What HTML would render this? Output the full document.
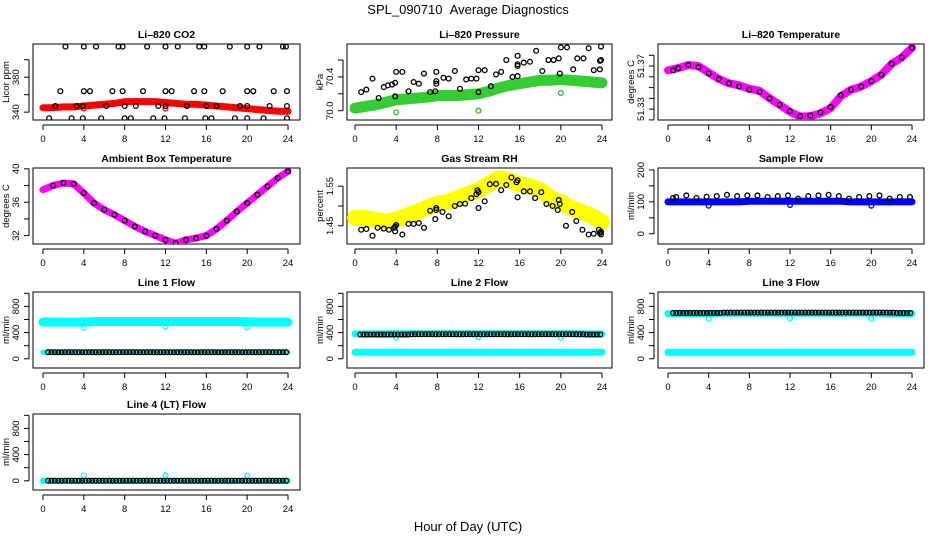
<!DOCTYPE html>
<html><head><meta charset="utf-8"><style>
html,body{margin:0;padding:0;background:#fff;}
svg{display:block;font-family:"Liberation Sans",sans-serif;}
</style></head><body>
<svg id="chart" width="936" height="540" viewBox="0 0 936 540" xmlns="http://www.w3.org/2000/svg">
<rect x="0" y="0" width="936" height="540" fill="#fff"/>
<text x="468" y="14" text-anchor="middle" font-size="13">SPL_090710 &#160;Average Diagnostics</text>
<text x="468" y="531" text-anchor="middle" font-size="13">Hour of Day (UTC)</text>
</svg>
<script>
const xTicks = [0,4,8,12,16,20,24];
const hourly = [0,1,2,3,4,5,6,7,8,9,10,11,12,13,14,15,16,17,18,19,20,21,22,23,24];

// CO2
const co2Band = [345,345,346,346,347,348,349,350,352,352,352,352,351,350,349,349,348,347,346,345,344,343,342,341,341];
const co2BlackH = [2.2,4,5.2,7.4,7.8,10.2,12,13.2,15.3,15.8,18.3,20,21.2,23.5,23.8, 1.7,4,4.6,6.8,7.8,9.8,12,12.6,14.8,15.8,17.6,20,20.6,22.6,23.9, 1.2,3.3,3.9,6.2,8,9.1,11.3,12,14.1,16,17,19.3,20,22.2,23.9, 0.6,2.8,3.9,5.7,8,8.6,10.8,11.9,13.9,15.9,16.5,18.8,20,21.6,23.9];
const co2BlackV = [415,415,415,415,415,415,415,415,415,415,415,415,415,415,415, 364,364,364,364,364,364,364,364,364,364,364,364,364,364,364, 347,347,347,347,347,347,347,347,347,347,347,347,347,347,347, 333,333,333,333,333,333,333,333,333,333,333,333,333,333,333];
const co2OutH = [4,12];
const co2OutV = [344,344];

// Pressure
const presBand = [70.03,70.05,70.07,70.10,70.13,70.14,70.15,70.16,70.18,70.18,70.18,70.19,70.20,70.23,70.27,70.30,70.32,70.34,70.36,70.36,70.37,70.36,70.35,70.34,70.33];
const presBlackH = [0.6,1.1,1.7,2.3,2.8,3.2,3.6,3.9,4,3.9,4.6,5.2,5.7,6.2,6.7,7.3,7.8,7.9,7.9,7.9,8.6,9.1,9.7,10.2,10.8,11.3,11.8,12,12,12.6,13.2,13.7,14.2,14.7,15.3,15.8,15.8,15.8,15.8,16.4,17,17.6,18.2,18.8,19.3,19.8,19.9,20,20.6,21.2,21.6,22.2,22.7,23.2,23.8,23.8,23.9,23.9];
const presBlackV = [70.22,70.25,70.38,70.15,70.28,70.3,70.31,70.33,70.46,70.17,70.46,70.23,70.34,70.32,70.44,70.22,70.23,70.32,70.35,70.46,70.39,70.38,70.47,70.26,70.37,70.38,70.38,70.48,70.22,70.48,70.29,70.43,70.46,70.6,70.4,70.41,70.53,70.55,70.65,70.57,70.58,70.71,70.47,70.6,70.6,70.62,70.44,70.75,70.75,70.49,70.62,70.62,70.74,70.48,70.49,70.59,70.6,70.76];
const presOutH = [4,12,20];
const presOutV = [69.98,70.0,70.21];

// Li-820 temperature
const tempBand = [51.366,51.368,51.371,51.370,51.364,51.358,51.354,51.352,51.349,51.347,51.340,51.334,51.3275,51.323,51.3235,51.326,51.331,51.342,51.348,51.351,51.356,51.362,51.372,51.378,51.387];
const tempBlackV = [51.366,51.368,51.371,51.369,51.363,51.358,51.354,51.351,51.348,51.346,51.340,51.334,51.328,51.3235,51.324,51.327,51.332,51.343,51.348,51.351,51.356,51.362,51.372,51.378,51.387];

// Ambient
const ambBand = [37.5,38.0,38.3,38.2,37.1,35.9,35.1,34.5,33.8,33.1,32.5,32.0,31.5,31.1,31.5,31.7,32.0,32.8,33.8,34.9,35.9,36.9,37.9,38.9,39.7];

// RH
const rhBand = [1.47,1.47,1.465,1.46,1.465,1.475,1.485,1.495,1.505,1.51,1.52,1.53,1.54,1.555,1.57,1.565,1.555,1.55,1.54,1.52,1.51,1.495,1.485,1.475,1.46];
const rhBlackH = [0.6,1.1,1.7,2.2,2.8,3.3,3.8,3.9,4,3.9,4.6,5.2,5.7,6.2,6.7,7.3,7.8,7.9,7.9,8.5,9.1,9.7,10.2,10.7,11.3,11.8,11.9,12,12,12.6,13.1,13.7,14.2,14.7,15.2,15.7,15.8,15.8,16.4,17,17.5,18.1,18.6,19.2,19.7,19.8,19.9,20.5,21.1,21.5,22.1,22.7,23.2,23.7,23.8,23.9,23.9];
const rhBlackV = [1.44,1.442,1.425,1.445,1.443,1.44,1.445,1.448,1.452,1.436,1.428,1.455,1.455,1.457,1.445,1.488,1.467,1.49,1.495,1.485,1.474,1.50,1.505,1.506,1.52,1.53,1.54,1.535,1.495,1.512,1.555,1.556,1.54,1.553,1.572,1.56,1.565,1.522,1.537,1.537,1.52,1.535,1.505,1.50,1.49,1.515,1.505,1.45,1.485,1.462,1.44,1.428,1.43,1.44,1.432,1.435,1.428];

// Sample flow
const sfBand = [100,100,100,100,100,100,100,100,102,102,102,102,102,102,102,102,102,102,100,100,100,100,100,100,100];
const sfBlackV = [112,115,120,112,116,118,122,118,120,120,115,118,120,110,118,120,122,118,110,115,118,120,110,115,115];
const sfOutH = [4,12,20];
const sfOutV = [88,90,88];

// Line flows
const l1Cyan = [560,560,560,560,560,570,570,570,570,570,570,570,570,570,570,570,570,570,570,570,565,560,560,560,560];
const l1Black = [100,100,100,100,100,100,100,100,100,100,100,100,100,100,100,100,100,100,100,100,100,100,100,100,100];
const l1OutV = [470,490,480];
const l2Cyan = [380,380,380,380,385,385,385,385,385,385,385,385,385,385,385,385,385,385,385,385,385,385,380,380,380];
const l2Black = [370,370,370,370,370,375,375,375,375,375,375,375,375,375,375,375,375,375,375,375,375,375,370,370,370];
const l2Low = [100,100,100,100,100,100,100,100,100,100,100,100,100,100,100,100,100,100,100,100,100,100,100,100,100];
const l2OutV = [320,330,320];
const l3Black = [700,700,700,700,700,705,705,705,705,705,705,705,705,705,705,705,705,705,705,705,705,705,700,700,700];
const l3Cyan = [690,690,690,690,690,695,695,695,695,695,695,695,695,695,695,695,695,695,695,695,695,695,690,690,690];
const l3Low = [100,100,100,100,100,100,100,100,100,100,100,100,100,100,100,100,100,100,100,100,100,100,100,100,100];
const l3OutV = [610,620,610];
const l4Black = [0,0,0,0,0,0,0,0,0,0,0,0,0,0,0,0,0,0,0,0,0,0,0,0,0];
const l4OutV = [80,85,80];
const outH = [4,12,20];

const NS = "http://www.w3.org/2000/svg";
const svg = document.getElementById('chart');
const cols = [{bl:33,br:300,x0:43,x24:288},{bl:347,br:612,x0:355,x24:602},{bl:658,br:924,x0:668,x24:912}];
const rows = [44,168,292,414];
const H = 76;

function mk(tag, attrs, parent){
  const e = document.createElementNS(NS, tag);
  for (const k in attrs) e.setAttribute(k, attrs[k]);
  (parent||svg).appendChild(e);
  return e;
}

function panel(name, title, col, row, ymin, ymax, yt, yl, ylab){
  const c = cols[col], top = rows[row], bot = top + H;
  const g = mk('g', {});
  
  
  const sx = h => c.x0 + (c.x24 - c.x0) * h / 24;
  const sy = v => bot - (v - ymin) / (ymax - ymin) * H;
  const box = mk('rect', {x:c.bl, y:top, width:c.br-c.bl, height:H, fill:'none', stroke:'#000', 'stroke-width':1}, g);
  
  
  const t = mk('text', {x:(c.bl+c.br)/2, y:top-6, 'text-anchor':'middle', 'font-size':10.5, 'font-weight':'bold'}, g);
  t.textContent = title;
  
  
  const xa = mk('g', {}, g);
  
  
  const ay = bot + 5;
  mk('line', {x1:sx(0), x2:sx(24), y1:ay, y2:ay, stroke:'#000'}, xa);
  xTicks.forEach(v => {
    mk('line', {x1:sx(v), x2:sx(v), y1:ay, y2:ay+5, stroke:'#000'}, xa);
    const l = mk('text', {x:sx(v), y:ay+17, 'text-anchor':'middle', 'font-size':9.5}, xa);
    l.textContent = v;
  });
  const ya = mk('g', {}, g);
  
  
  const ax = c.bl - 4;
  mk('line', {x1:ax, x2:ax, y1:sy(yt[0]), y2:sy(yt[yt.length-1]), stroke:'#000'}, ya);
  yt.forEach(v => mk('line', {x1:ax, x2:ax-5, y1:sy(v), y2:sy(v), stroke:'#000'}, ya));
  yl.forEach(v => {
    const l = mk('text', {x:0, y:0, 'text-anchor':'middle', 'font-size':9.5, transform:`translate(${ax-10},${sy(v)}) rotate(-90)`}, ya);
    l.textContent = v;
  });
  const yt2 = mk('text', {x:0, y:0, 'text-anchor':'middle', 'font-size':9.5, transform:`translate(${ax-20},${(top+bot)/2}) rotate(-90)`}, g);
  yt2.textContent = ylab;
  
  
  const clip = 'clip-' + name;
  const cp = mk('clipPath', {id:clip}, g);
  mk('rect', {x:c.bl, y:top, width:c.br-c.bl, height:H}, cp);
  const plot = mk('g', {'clip-path':`url(#${clip})`}, g);
  return {g:plot, sx, sy};
}

function band(p, hs, vs, color, w, name){
  const pts = hs.map((h,i) => p.sx(h) + ',' + p.sy(vs[i])).join(' ');
  const pl = mk('polyline', {points:pts, fill:'none', stroke:color, 'stroke-width':w, 'stroke-linejoin':'round', 'stroke-linecap':'round'}, p.g);
  
  
}
function pts(p, hs, vs, color, name){
  const gg = mk('g', {}, p.g);
  
  
  hs.forEach((h,i) => mk('circle', {cx:p.sx(h), cy:p.sy(vs[i]), r:2.4, fill:'none', stroke:color, 'stroke-width':1.3}, gg));
}
function dense(p, vs, color, name, start){
  const gg = mk('g', {}, p.g);
  
  
  const sub = [0, 0.33, 0.66];
  hourly.slice(0,24).forEach((h,i) => sub.forEach(s => {
    const hh = h + s + (start||0);
    if (hh <= 24) mk('circle', {cx:p.sx(hh), cy:p.sy(vs[i]), r:2.4, fill:'none', stroke:color, 'stroke-width':1.3}, gg);
  }));
}

let p;
p = panel('co2', 'Li\u2013820 CO2', 0, 0, 331, 418, [340,360,380,400], [340,380], 'Licor ppm');
band(p, hourly, co2Band, '#ff0000', 7, 'co2-band');
pts(p, co2OutH, co2OutV, '#ff0000', 'co2-outliers');
pts(p, co2BlackH, co2BlackV, '#000', 'co2-points');

p = panel('pressure', 'Li\u2013820 Pressure', 1, 0, 69.89, 70.79, [70.0,70.2,70.4,70.6], ['70.0','70.4'], 'kPa');
band(p, hourly, presBand, '#33cc33', 11, 'pressure-band');
pts(p, presOutH, presOutV, '#22bb22', 'pressure-outliers');
pts(p, presBlackH, presBlackV, '#000', 'pressure-points');

p = panel('li820-temp', 'Li\u2013820 Temperature', 2, 0, 51.3199, 51.3905, [51.32,51.33,51.34,51.35,51.36,51.37,51.38], ['51.33','51.37'], 'degrees C');
band(p, hourly, tempBand, '#ff00ff', 8, 'li820-temp-band');
pts(p, hourly.map(h => h === 0 ? 0.5 : h), tempBlackV, '#000', 'li820-temp-points');

p = panel('ambient', 'Ambient Box Temperature', 0, 1, 31.0, 40.1, [32,34,36,38,40], [32,36,40], 'degrees C');
band(p, hourly, ambBand, '#ff00ff', 7, 'ambient-band');
pts(p, hourly.slice(1), ambBand.slice(1), '#000', 'ambient-points');

p = panel('rh', 'Gas Stream RH', 1, 1, 1.404, 1.596, [1.45,1.50,1.55], ['1.45','1.55'], 'percent');
band(p, hourly, rhBand, '#ffff00', 16, 'rh-band');
pts(p, rhBlackH, rhBlackV, '#000', 'rh-points');

p = panel('sample-flow', 'Sample Flow', 2, 1, -32, 206, [0,50,100,150,200], [0,100,200], 'ml/min');
band(p, hourly, sfBand, '#0000ff', 7, 'sample-flow-band');
pts(p, sfOutH, sfOutV, '#0000ff', 'sample-flow-outliers');
pts(p, hourly.map(h => h === 0 ? 0.5 : h - 0.2), sfBlackV, '#000', 'sample-flow-points');

const fT = [0,200,400,600,800,1000], fL = [0,400,800];
p = panel('line1', 'Line 1 Flow', 0, 2, -141, 1020, fT, fL, 'ml/min');
band(p, hourly, l1Cyan, '#00ffff', 9, 'line1-cyan-band');
band(p, hourly, l1Black, '#00ffff', 5, 'line1-cyan-low');
pts(p, outH, l1OutV, '#00ffff', 'line1-outliers');
dense(p, l1Black, '#000', 'line1-points', 0.5);

p = panel('line2', 'Line 2 Flow', 1, 2, -141, 1020, fT, fL, 'ml/min');
band(p, hourly, l2Cyan, '#00ffff', 7, 'line2-cyan-band');
band(p, hourly, l2Low, '#00ffff', 7, 'line2-cyan-low');
pts(p, outH, l2OutV, '#00ffff', 'line2-outliers');
dense(p, l2Black, '#000', 'line2-points', 0.5);

p = panel('line3', 'Line 3 Flow', 2, 2, -141, 1020, fT, fL, 'ml/min');
band(p, hourly, l3Cyan, '#00ffff', 7, 'line3-cyan-band');
band(p, hourly, l3Low, '#00ffff', 7, 'line3-cyan-low');
pts(p, outH, l3OutV, '#00ffff', 'line3-outliers');
dense(p, l3Black, '#000', 'line3-points', 0.5);

p = panel('line4', 'Line 4 (LT) Flow', 0, 3, -141, 1020, fT, fL, 'ml/min');
band(p, hourly, l4Black, '#00ffff', 6, 'line4-cyan-band');
pts(p, outH, l4OutV, '#00ffff', 'line4-outliers');
dense(p, l4Black, '#000', 'line4-points', 0.5);
</script>
</body></html>
